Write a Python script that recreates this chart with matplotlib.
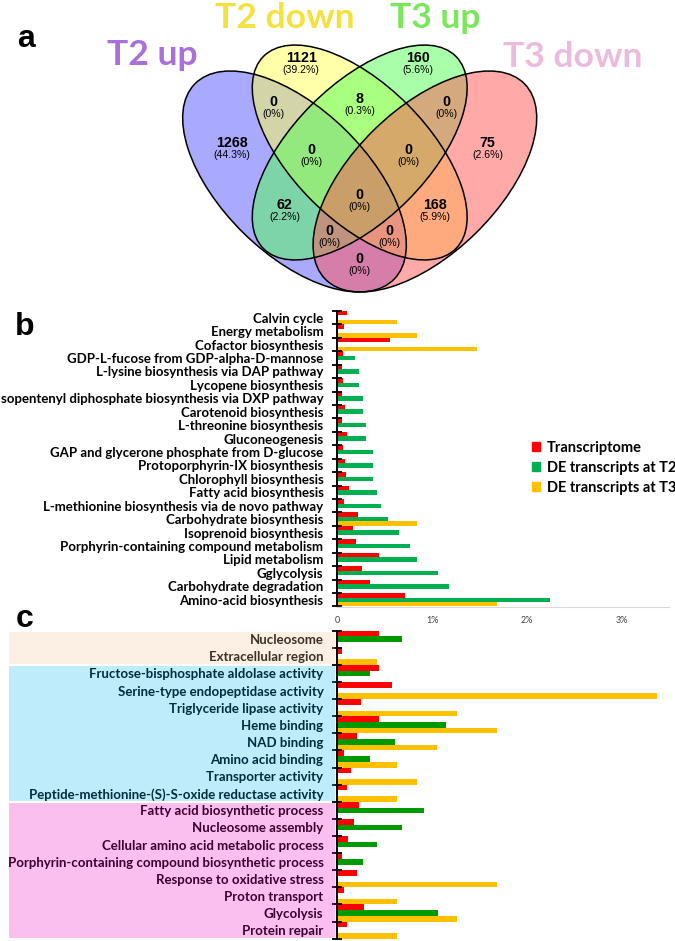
import numpy as np
import matplotlib
matplotlib.use("Agg")
import matplotlib.pyplot as plt
from matplotlib.patches import Ellipse, Rectangle
from matplotlib.textpath import TextPath
from matplotlib.font_manager import FontProperties

W, H, DPI = 675, 941, 100

# ---------------- data ----------------
venn_names = ["T2 up", "T2 down", "T3 up", "T3 down"]
venn_name_colors = ["#A96FDB", "#F3E13E", "#7AE65C", "#EBBADD"]
# region membership (T2 up, T2 down, T3 up, T3 down) -> count
venn_regions = ["1000", "0100", "0010", "0001", "1100", "0110", "0011", "1110",
                "0111", "1010", "0101", "1111", "1011", "1101", "1001"]
venn_counts = [1268, 1121, 160, 75, 0, 8, 0, 0, 0, 62, 168, 0, 0, 0, 0]

cats_b = ["Calvin cycle", "Energy metabolism", "Cofactor biosynthesis",
          "GDP-L-fucose from GDP-alpha-D-mannose", "L-lysine biosynthesis via DAP pathway",
          "Lycopene biosynthesis", "Isopentenyl diphosphate biosynthesis via DXP pathway",
          "Carotenoid biosynthesis", "L-threonine biosynthesis", "Gluconeogenesis",
          "GAP and glycerone phosphate from D-glucose", "Protoporphyrin-IX biosynthesis",
          "Chlorophyll biosynthesis", "Fatty acid biosynthesis",
          "L-methionine biosynthesis via de novo pathway", "Carbohydrate biosynthesis",
          "Isoprenoid biosynthesis", "Porphyrin-containing compound metabolism",
          "Lipid metabolism", "Gglycolysis", "Carbohydrate degradation",
          "Amino-acid biosynthesis"]
b_transcriptome = [0.106, 0.074, 0.556, 0.056, 0.046, 0.056, 0.046, 0.085, 0.046, 0.102, 0.063,
                   0.077, 0.088, 0.127, 0.074, 0.218, 0.169, 0.194, 0.444, 0.264, 0.342, 0.711]
b_de_t2 = [0, 0, 0, 0.190, 0.228, 0.228, 0.266, 0.266, 0.305, 0.305, 0.381,
           0.381, 0.381, 0.419, 0.457, 0.533, 0.647, 0.761, 0.837, 1.066, 1.180, 2.246]
b_de_t3 = [0.630, 0.842, 1.474, 0, 0, 0, 0, 0, 0, 0, 0,
           0, 0, 0, 0, 0.842, 0, 0, 0, 0, 0, 1.684]

cats_c = ["Nucleosome", "Extracellular region", "Fructose-bisphosphate aldolase activity",
          "Serine-type endopeptidase activity", "Triglyceride lipase activity", "Heme binding",
          "NAD binding", "Amino acid binding", "Transporter activity",
          "Peptide-methionine-(S)-S-oxide reductase activity", "Fatty acid biosynthetic process",
          "Nucleosome assembly", "Cellular amino acid metabolic process",
          "Porphyrin-containing compound biosynthetic process", "Response to oxidative stress",
          "Proton transport", "Glycolysis", "Protein repair"]
c_transcriptome = [0.444, 0.053, 0.444, 0.574, 0.250, 0.444, 0.208, 0.074, 0.141, 0.099,
                   0.229, 0.180, 0.109, 0.049, 0.211, 0.067, 0.278, 0.099]
c_de_t2 = [0.685, 0, 0.342, 0, 0, 1.142, 0.609, 0.342, 0, 0,
           0.913, 0.685, 0.419, 0.266, 0, 0, 1.066, 0]
c_de_t3 = [0, 0.421, 0, 3.368, 1.263, 1.684, 1.053, 0.632, 0.842, 0.632,
           0, 0, 0, 0, 1.684, 0.632, 1.263, 0.632]
c_groups = [2, 8, 8]   # rows per coloured band
c_band_colors = ["#F7C393", "#03B7EF", "#F303BB"]

xticks_b = [0, 1, 2, 3]
xticklabels_b = ["0", "1%", "2%", "3%"]
series_names = ["Transcriptome", "DE transcripts at T2", "DE transcripts at T3"]

# ---------------- helpers ----------------
def fit_size(text, target_px, prop):
    w = TextPath((0, 0), text, size=10, prop=prop).get_extents().width
    return 10 * target_px / (w * DPI / 72.0)

bold = FontProperties(family="Lato", weight="bold")

fig = plt.figure(figsize=(W / DPI, H / DPI), dpi=DPI)
full = fig.add_axes([0, 0, 1, 1], zorder=5)
full.set_xlim(0, W); full.set_ylim(H, 0); full.axis("off")
full.patch.set_alpha(0)

# ---------------- panel a : Venn ----------------
AX = 359.7                       # symmetry axis (pixels)
inner = dict(c=(AX, 152.5), a=136.0, b=67.8, ang=45.0)     # T2 down ellipse
outer = dict(c=(294.5, 181.5), a=139.5, b=72.5, ang=44.4)  # T2 up ellipse
ells = [(outer["c"], outer["a"], outer["b"], outer["ang"]),
        (inner["c"], inner["a"], inner["b"], inner["ang"]),
        ((2 * AX - inner["c"][0], inner["c"][1]), inner["a"], inner["b"], -inner["ang"]),
        ((2 * AX - outer["c"][0], outer["c"][1]), outer["a"], outer["b"], -outer["ang"])]
fills = ["#5555FF", "#FFFF55", "#55FF55", "#FF5555"]
for (c, a_, b_, ang), col in zip(ells, fills):
    full.add_patch(Ellipse(c, 2 * a_, 2 * b_, angle=ang, facecolor=col, alpha=0.5,
                           edgecolor="none"))
for (c, a_, b_, ang) in ells:
    full.add_patch(Ellipse(c, 2 * a_, 2 * b_, angle=ang, facecolor="none",
                           edgecolor="black", lw=1.1))

region_pos = {"1000": (231.7, 143.3), "0100": (301.3, 58.3), "0010": (418.1, 58.3),
              "0001": (487.7, 143.3), "1100": (273, 101.7), "0110": (359.7, 99.3),
              "0011": (446.4, 101.7), "1110": (311.3, 150), "0111": (408.1, 150),
              "1010": (284.7, 205), "0101": (434.7, 205), "1111": (359.7, 195),
              "1011": (329.7, 230.7), "1101": (389.7, 230.7), "1001": (359.7, 259.3)}
total = sum(venn_counts)
for reg, n in zip(venn_regions, venn_counts):
    x, y = region_pos[reg]
    pct = 100.0 * n / total
    ptxt = "(0%)" if n == 0 else f"({pct:.1f}%)"
    full.text(x, y, str(n), ha="center", va="center", fontsize=10.3, fontweight="bold",
              family="Liberation Sans")
    full.text(x, y + 12.0, ptxt, ha="center", va="center", fontsize=7.6,
              family="Liberation Sans")

ts = fit_size("T2 down", 137, bold)
name_pos = [(152, 65), (284.5, 28), (435, 28), (572.5, 67)]
for name, col, (x, y) in zip(venn_names, venn_name_colors, name_pos):
    full.text(x, y, name, ha="center", va="baseline", fontsize=ts, color=col,
              fontproperties=bold)

for lab, (x, y) in zip("abc", [(26, 47), (25, 335), (25, 627)]):
    full.text(x, y, lab, ha="center", va="baseline", fontsize=23, fontweight="bold",
              family="Liberation Sans")

# ---------------- bar panels ----------------
X0, PXPCT = 337.3, 94.9
XMAX = 3.5

def make_axes(top_px, bottom_px):
    return fig.add_axes([X0 / W, 1 - bottom_px / H, XMAX * PXPCT / W, (bottom_px - top_px) / H])

def bars(ax, cats, vals, cols, label_px_target, longest):
    n = len(cats)
    idx = np.arange(n)
    hgt = 1 / 3
    for k, (v, col) in enumerate(zip(vals, cols)):
        ax.barh(idx + (k - 1) * hgt, v, height=hgt, color=col, edgecolor="none",
                label=series_names[k])
    ax.set_ylim(n - 0.5, -0.5)
    ax.set_xlim(0, XMAX)
    size = fit_size(longest, label_px_target, bold)
    ax.set_yticks(idx)
    ax.set_yticklabels(cats, fontproperties=bold, fontsize=size)
    ax.tick_params(axis="y", which="major", length=0, pad=10)
    ax.set_yticks(np.arange(n + 1) - 0.5, minor=True)
    ax.tick_params(axis="y", which="minor", direction="inout", length=6.5, width=1.3,
                   color="black")
    for s in ["top", "right"]:
        ax.spines[s].set_visible(False)
    ax.spines["left"].set_linewidth(1.4)
    ax.patch.set_alpha(0)
    return size

ax_b = make_axes(311.0, 606.5)
bars(ax_b, cats_b, [b_transcriptome, b_de_t2, b_de_t3], ["#FF0000", "#00B050", "#FFC000"],
     280, "L-methionine biosynthesis via de novo pathway")
ax_b.spines["bottom"].set_color("#D9D9D9")
ax_b.spines["bottom"].set_linewidth(0.8)
ax_b.set_xticks(xticks_b)
ax_b.set_xticklabels(xticklabels_b, fontsize=6.5, color="#404040", family="Lato")
ax_b.tick_params(axis="x", length=0, pad=7)

leg_handles = [Rectangle((0, 0), 1, 1, color=c) for c in ["#FF0000", "#00B050", "#FFC000"]]
fig.legend(leg_handles, series_names, loc="upper left",
           bbox_to_anchor=(532 / W, 1 - 441 / H), frameon=False,
           prop=FontProperties(family="Lato", weight="bold", size=10.5),
           handlelength=0.55, handleheight=0.55, handletextpad=0.45, labelspacing=0.4,
           borderpad=0, borderaxespad=0)

ax_c = make_axes(630.7, 938.7)
bars(ax_c, cats_c, [c_transcriptome, c_de_t2, c_de_t3], ["#FF0000", "#009A00", "#FFC000"],
     313.5, "Porphyrin-containing compound biosynthetic process")
ax_c.spines["bottom"].set_visible(False)
ax_c.set_xticks([])

# coloured translucent bands over panel c labels
row_px = (938.7 - 630.7) / len(cats_c)
start = 0
for ng, col in zip(c_groups, c_band_colors):
    top = 630.7 + start * row_px + 1.0
    bot = 630.7 + (start + ng) * row_px - 1.0
    full.add_patch(Rectangle((9, top), 326, bot - top, facecolor=col, alpha=0.25,
                             edgecolor="none", zorder=10))
    start += ng

fig.savefig("out.png", dpi=DPI)
